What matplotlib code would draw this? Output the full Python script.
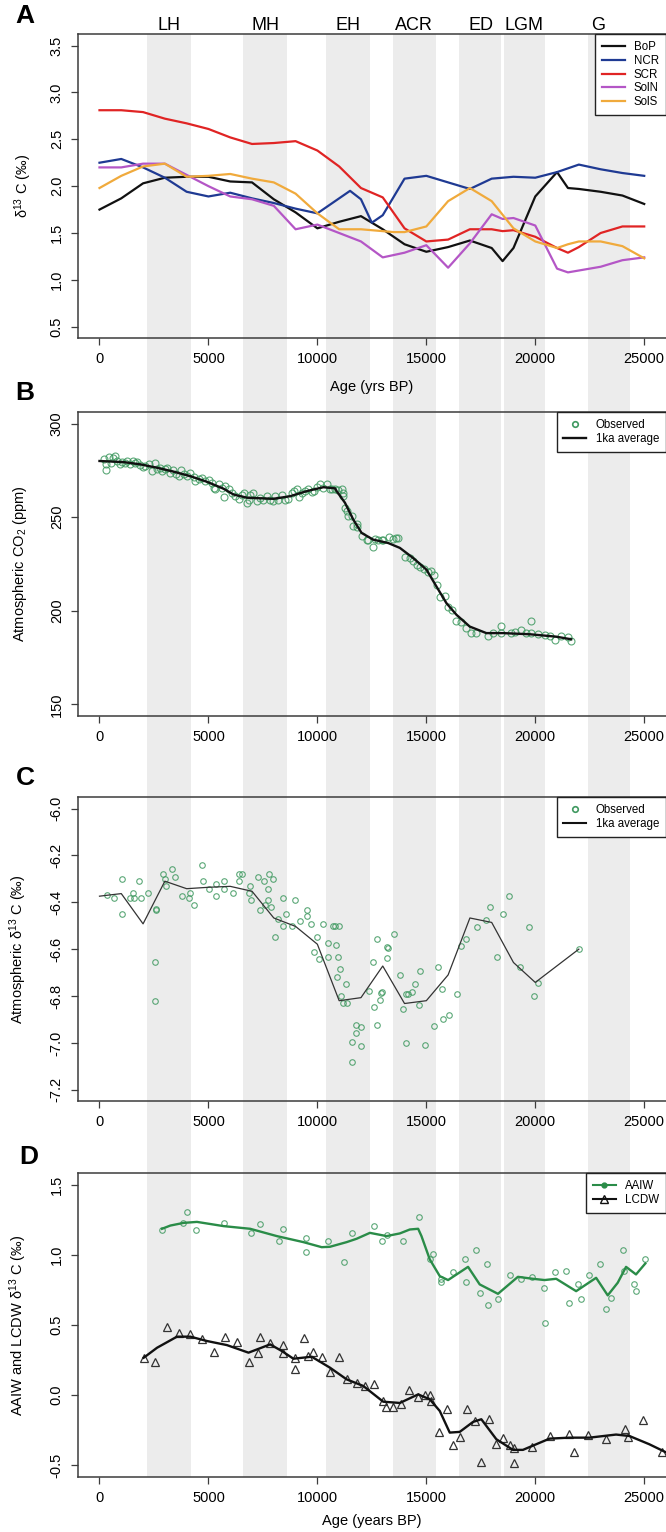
import matplotlib
matplotlib.use('Agg')
import matplotlib.pyplot as plt
import matplotlib.transforms as mtransforms
from matplotlib.lines import Line2D

plt.rcParams['font.family'] = ['Liberation Sans', 'DejaVu Sans']
plt.rcParams['mathtext.default'] = 'regular'

# ---- shared ----
periods = ['LH', 'MH', 'EH', 'ACR', 'ED', 'LGM', 'G']
period_label_x = [3200, 7600, 11400, 14450, 17500, 19500, 22900]
band_start = [2200, 6600, 10400, 13450, 16500, 18550, 22400]
band_end = [4200, 8600, 12400, 15450, 18450, 20450, 24350]
xticks = [0, 5000, 10000, 15000, 20000, 25000]

# ---- panel A: d13C by region ----
bop_x = [0, 1000, 2000, 3000, 4000, 5000, 6000, 7000, 8000, 9000, 10000, 11000, 12000, 13000,
         14000, 15000, 16000, 17000, 18000, 18500, 19000, 20000, 21000, 21500, 22000, 23000, 24000, 25000]
bop_y = [1.75, 1.87, 2.03, 2.09, 2.10, 2.10, 2.05, 2.04, 1.86, 1.72, 1.55, 1.62, 1.68, 1.54,
         1.38, 1.30, 1.35, 1.42, 1.34, 1.20, 1.34, 1.89, 2.15, 1.98, 1.97, 1.94, 1.90, 1.81]
ncr_x = [0, 1000, 2000, 3000, 4000, 5000, 6000, 7000, 8000, 9000, 10000, 11500, 12000, 12500,
         13000, 14000, 15000, 16000, 17000, 18000, 19000, 20000, 21000, 22000, 23000, 24000, 25000]
ncr_y = [2.25, 2.29, 2.20, 2.09, 1.94, 1.89, 1.93, 1.87, 1.82, 1.76, 1.71, 1.95, 1.86, 1.61,
         1.69, 2.08, 2.11, 2.04, 1.97, 2.08, 2.10, 2.09, 2.15, 2.23, 2.18, 2.14, 2.11]
scr_x = [0, 1000, 2000, 3000, 4000, 5000, 6000, 7000, 8000, 9000, 10000, 11000, 12000, 13000,
         14000, 15000, 16000, 17000, 18000, 18500, 19000, 20000, 21000, 21500, 22000, 23000, 24000, 25000]
scr_y = [2.81, 2.81, 2.79, 2.72, 2.67, 2.61, 2.52, 2.45, 2.46, 2.48, 2.38, 2.21, 1.98, 1.88,
         1.55, 1.41, 1.43, 1.54, 1.54, 1.52, 1.53, 1.46, 1.34, 1.29, 1.35, 1.50, 1.57, 1.57]
soln_x = [0, 1000, 2000, 3000, 4000, 5000, 6000, 7000, 8000, 9000, 10000, 11000, 12000, 13000,
          14000, 15000, 16000, 17000, 18000, 18500, 19000, 20000, 21000, 21500, 22000, 23000, 24000, 25000]
soln_y = [2.20, 2.20, 2.24, 2.24, 2.12, 2.00, 1.89, 1.86, 1.79, 1.54, 1.59, 1.50, 1.41, 1.24,
          1.29, 1.37, 1.13, 1.39, 1.70, 1.65, 1.66, 1.58, 1.12, 1.08, 1.10, 1.14, 1.21, 1.24]
sols_x = [0, 1000, 2000, 3000, 4000, 5000, 6000, 7000, 8000, 9000, 10000, 11000, 12000, 13000,
          13500, 14000, 15000, 16000, 17000, 18000, 19000, 20000, 21000, 21500, 22000, 23000, 24000, 25000]
sols_y = [1.98, 2.11, 2.21, 2.24, 2.10, 2.11, 2.13, 2.08, 2.04, 1.92, 1.71, 1.54, 1.54, 1.52,
          1.51, 1.51, 1.57, 1.84, 1.98, 1.84, 1.55, 1.41, 1.34, 1.38, 1.41, 1.41, 1.36, 1.23]
region_names = ['BoP', 'NCR', 'SCR', 'SolN', 'SolS']
region_colors = ['#111111', '#1f3a93', '#e02424', '#b456c6', '#f0aa3c']

# ---- panel B: atmospheric CO2 ----
co2_obs_age = [199, 321, 321, 428, 534, 626, 733, 809, 962, 1038, 1191, 1267, 1420, 1542, 1649, 1725,
               1878, 2000, 2107, 2259, 2412, 2565, 2641, 2794, 2870, 3023, 3099, 3252, 3374, 3527,
               3633, 3740, 3862, 4015, 4168, 4320, 4397, 4549, 4702, 4855, 5007, 5160, 5236, 5313,
               5465, 5618, 5725, 5771, 5923, 6076, 6229, 6381, 6534, 6641, 6763, 6839, 6916, 7068,
               7221, 7374, 7526, 7679, 7832, 7954, 8060, 8213, 8366, 8518, 8671, 8824, 8930, 9053,
               9175, 9282, 9434, 9587, 9740, 9846, 9969, 10121, 10274, 10457, 10579, 10655, 10808,
               10961, 11113, 11159, 11190, 11266, 11342, 11419, 11571, 11648, 11800, 11800, 12029,
               12258, 12335, 12533, 12640, 12793, 12945, 13022, 13296, 13449, 13586, 13709, 14014,
               14243, 14396, 14579, 14701, 14884, 15082, 15235, 15342, 15495, 15617, 15846, 15998,
               16197, 16380, 16609, 16838, 17067, 17296, 17830, 18059, 18441, 18441, 18899, 19052,
               19357, 19586, 19815, 19815, 20120, 20426, 20655, 20884, 21189, 21494, 21647]
co2_obs_ppm = [280.9, 278.2, 275.2, 282.3, 279.1, 281.8, 282.7, 280.0, 278.2, 279.4, 278.7, 280.0,
               278.2, 280.0, 279.1, 279.4, 277.7, 276.9, 277.3, 278.2, 274.6, 279.1, 275.5, 276.4,
               274.6, 275.5, 276.4, 273.7, 275.2, 272.8, 271.9, 275.2, 272.8, 271.9, 273.7, 271.6,
               269.3, 270.5, 271.1, 269.3, 269.8, 268.4, 265.7, 264.8, 267.5, 265.7, 260.9, 266.9,
               265.2, 263.0, 261.2, 259.8, 261.6, 263.0, 257.7, 259.1, 262.1, 263.0, 258.6, 260.3,
               259.1, 261.2, 259.4, 258.6, 261.2, 259.4, 262.1, 259.4, 259.8, 263.0, 263.9, 265.2,
               260.9, 263.0, 263.9, 264.8, 263.4, 263.9, 266.2, 267.5, 265.7, 267.8, 265.2, 265.2,
               264.8, 264.4, 265.2, 263.0, 261.2, 255.0, 253.2, 250.5, 250.5, 245.2, 246.6, 244.8,
               240.2, 237.7, 238.0, 234.1, 238.4, 238.0, 238.0, 237.7, 239.5, 238.4, 238.9, 238.9,
               228.7, 228.2, 226.4, 224.6, 223.4, 222.3, 220.5, 221.1, 219.3, 213.9, 207.3, 207.7,
               202.3, 200.5, 194.8, 193.8, 190.7, 188.4, 188.4, 186.6, 188.4, 192.0, 188.1, 188.4,
               188.9, 189.8, 188.1, 194.8, 188.1, 187.7, 187.2, 186.6, 184.5, 186.3, 185.9, 184.1]
co2_avg_age = [0, 1114, 1878, 2642, 3405, 4168, 4932, 5695, 6153, 6764, 7985, 8749, 9512, 10276,
               10810, 10884, 11266, 11648, 12029, 12563, 13250, 13785, 14395, 15006, 15464, 15923,
               16382, 16992, 17755, 18516, 19739, 20962, 21649]
co2_avg_ppm = [280.0, 279.4, 278.2, 276.4, 274.3, 271.9, 268.9, 265.2, 262.1, 260.4, 259.8, 261.2,
               263.9, 266.0, 265.4, 263.9, 257.7, 248.7, 241.6, 238.0, 236.2, 233.6, 228.2, 222.0,
               213.0, 204.1, 197.9, 191.6, 188.1, 188.1, 187.5, 186.2, 184.8]

# ---- panel C: atmospheric d13C ----
d13c_obs_age = [351, 687, 1038, 1038, 1420, 1542, 1573, 1801, 1908, 2214, 2534, 2534, 2595, 2610,
                2901, 3023, 3068, 3328, 3450, 3786, 4091, 4168, 4320, 4702, 4732, 5007, 5343, 5343,
                5694, 5725, 6107, 6412, 6412, 6534, 6839, 6916, 6946, 7297, 7374, 7572, 7603, 7725,
                7725, 7801, 7877, 7954, 8060, 8183, 8442, 8442, 8564, 8824, 8976, 9205, 9511, 9511,
                9710, 9862, 9969, 10060, 10274, 10503, 10503, 10732, 10824, 10854, 10961, 10915,
                11037, 11006, 11312, 11067, 11159, 11342, 11770, 11770, 12014, 12014, 11587, 11587,
                12380, 12563, 12579, 12716, 12716, 12869, 12915, 12976, 13174, 13235, 13174, 13510,
                13770, 13938, 14075, 14182, 14334, 14075, 14472, 14686, 14731, 14960, 15357, 15525,
                15724, 15754, 16029, 16426, 16594, 16823, 17311, 17754, 17907, 18243, 18502, 18807,
                19296, 19693, 19922, 20120, 22028]
d13c_obs_val = [-6.370, -6.382, -6.300, -6.450, -6.382, -6.360, -6.382, -6.310, -6.382, -6.360,
                -6.653, -6.822, -6.429, -6.432, -6.279, -6.300, -6.332, -6.260, -6.292, -6.372,
                -6.382, -6.360, -6.410, -6.242, -6.310, -6.342, -6.320, -6.372, -6.310, -6.342,
                -6.360, -6.310, -6.279, -6.279, -6.360, -6.332, -6.389, -6.292, -6.432, -6.310,
                -6.410, -6.342, -6.389, -6.279, -6.420, -6.300, -6.550, -6.470, -6.382, -6.500,
                -6.450, -6.500, -6.389, -6.479, -6.432, -6.460, -6.492, -6.612, -6.550, -6.640,
                -6.492, -6.572, -6.632, -6.500, -6.500, -6.582, -6.632, -6.720, -6.686, -6.500,
                -6.749, -6.800, -6.829, -6.829, -6.925, -6.959, -6.933, -7.013, -6.996, -7.083,
                -6.777, -6.653, -6.845, -6.555, -6.922, -6.817, -6.785, -6.783, -6.592, -6.597,
                -6.637, -6.536, -6.712, -6.855, -6.793, -6.792, -6.783, -6.999, -6.749, -6.839,
                -6.693, -7.010, -6.930, -6.675, -6.770, -6.900, -6.879, -6.792, -6.587, -6.557,
                -6.507, -6.477, -6.422, -6.632, -6.449, -6.375, -6.675, -6.505, -6.800, -6.743, -6.600]
d13c_avg_age = [0, 350, 1000, 2000, 3000, 4000, 5000, 6000, 7000, 8000, 9000, 10000, 11000,
                12000, 13000, 14000, 15000, 16000, 17000, 18000, 19000, 20000, 22000]
d13c_avg_val = [-6.374, -6.370, -6.363, -6.492, -6.310, -6.342, -6.336, -6.332, -6.353, -6.467,
                -6.503, -6.579, -6.820, -6.807, -6.672, -6.832, -6.820, -6.710, -6.467, -6.486,
                -6.657, -6.742, -6.600]

# ---- panel D: AAIW and LCDW d13C ----
aaiw_obs_age = [2870, 3816, 4015, 4442, 5694, 6946, 7373, 8228, 8412, 9465, 9465, 10503, 11236,
                11572, 12610, 12976, 13205, 13907, 14670, 15159, 15312, 15693, 15693, 16228, 16762,
                16808, 17265, 17479, 17785, 17846, 18304, 18853, 19342, 19861, 20395, 20456, 20883,
                21418, 21571, 21952, 22105, 22487, 22975, 23250, 23494, 24044, 24090, 24548, 24624, 25051]
aaiw_obs_val = [1.173, 1.227, 1.303, 1.173, 1.227, 1.156, 1.216, 1.095, 1.185, 1.121, 1.021, 1.097,
                0.950, 1.156, 1.206, 1.097, 1.144, 1.097, 1.268, 0.971, 1.002, 0.805, 0.824, 0.877,
                0.971, 0.805, 1.033, 0.730, 0.931, 0.642, 0.687, 0.853, 0.829, 0.841, 0.760, 0.514,
                0.876, 0.884, 0.654, 0.791, 0.687, 0.853, 0.931, 0.611, 0.694, 1.033, 0.884, 0.789,
                0.741, 0.971]
aaiw_fit_age = [2870, 3252, 3862, 4473, 5694, 6915, 8137, 9358, 10198, 10580, 11343, 11801, 12411,
                13175, 13785, 14243, 14625, 14777, 15159, 15617, 15999, 16915, 17449, 18288, 19204,
                19891, 20426, 20960, 21876, 22793, 23326, 23785, 24166, 24624, 25051]
aaiw_fit_val = [1.185, 1.208, 1.227, 1.234, 1.204, 1.185, 1.133, 1.090, 1.054, 1.057, 1.090, 1.114,
                1.156, 1.133, 1.152, 1.180, 1.185, 1.133, 0.967, 0.848, 0.820, 0.914, 0.789, 0.722,
                0.843, 0.829, 0.820, 0.829, 0.741, 0.836, 0.711, 0.801, 0.914, 0.860, 0.938]
lcdw_obs_age = [2030, 2565, 3099, 3633, 4168, 4702, 5236, 5771, 6305, 6839, 7297, 7373, 7832, 8412,
                8412, 8976, 8976, 9388, 9587, 9785, 10198, 10580, 11007, 11343, 11801, 12182, 12610,
                13022, 13144, 13450, 13815, 14197, 14625, 14930, 15159, 15235, 15586, 15953, 16228,
                16533, 16884, 17220, 17525, 17861, 18181, 18517, 18853, 19006, 19006, 19845, 20685,
                21540, 21800, 22410, 23250, 24105, 24242, 24960, 25814]
lcdw_obs_val = [0.267, 0.236, 0.488, 0.440, 0.433, 0.398, 0.308, 0.417, 0.379, 0.236, 0.298, 0.417,
                0.374, 0.357, 0.298, 0.267, 0.189, 0.410, 0.279, 0.308, 0.272, 0.168, 0.270, 0.113,
                0.089, 0.066, 0.078, -0.041, -0.081, -0.081, -0.065, 0.037, -0.010, 0.000, 0.000,
                -0.041, -0.261, -0.100, -0.354, -0.295, -0.100, -0.183, -0.475, -0.171, -0.347,
                -0.302, -0.356, -0.484, -0.373, -0.366, -0.290, -0.273, -0.401, -0.285, -0.314,
                -0.242, -0.297, -0.178, -0.404]
lcdw_fit_age = [2030, 2641, 3557, 4168, 4931, 5847, 6839, 7832, 8366, 8900, 9740, 10580, 11343,
                12106, 13022, 13785, 14625, 15159, 15617, 16075, 16533, 17144, 17525, 18212, 18975,
                19433, 20044, 20655, 21571, 22487, 23708, 24318, 25234, 25967]
lcdw_fit_val = [0.267, 0.338, 0.417, 0.417, 0.386, 0.357, 0.303, 0.362, 0.315, 0.260, 0.274, 0.196,
                0.113, 0.066, -0.046, -0.055, 0.006, -0.029, -0.112, -0.266, -0.261, -0.190, -0.171,
                -0.313, -0.389, -0.389, -0.349, -0.309, -0.302, -0.302, -0.280, -0.290, -0.349, -0.404]

GREEN_PT = '#3f9960'
GREEN_LN = '#2a8c48'
BOX = '#3c3c3c'

fig = plt.figure(figsize=(6.66, 15.32), dpi=100)
L, W = 77.7 / 666, (666 - 77.7) / 666
FH = 1532.0


def pos(top_px, bot_px):
    return [L, 1 - bot_px / FH, W, (bot_px - top_px) / FH]


# background bands behind all panels
bg = fig.add_axes(pos(34.3, 1476.7))
bg.set_xlim(-1000, 26000)
bg.axis('off')
for a, b in zip(band_start, band_end):
    bg.axvspan(a, b, color='#ececec', lw=0)
trans = mtransforms.blended_transform_factory(bg.transData, fig.transFigure)
for lab, xc in zip(periods, period_label_x):
    bg.text(xc, 1 - 25 / FH, lab, transform=trans, ha='center', va='center', fontsize=13)


def style(ax, ylim, yticks, ylabels, ylabel, ylab_x):
    ax.set_facecolor('none')
    ax.set_xlim(-1000, 26000)
    ax.set_ylim(*ylim)
    ax.set_xticks(xticks)
    ax.set_xticklabels([str(t) for t in xticks])
    ax.set_yticks(yticks)
    ax.set_yticklabels(ylabels, rotation=90, va='center')
    ax.tick_params(length=5, width=0.9, labelsize=10.5, pad=5, color=BOX)
    for s in ax.spines.values():
        s.set_color(BOX)
        s.set_linewidth(1.1)
    ax.spines['right'].set_visible(False)
    ax.set_ylabel(ylabel, fontsize=10.5)
    ax.yaxis.set_label_coords(ylab_x, 0.5)


def legend(ax, handles, labels):
    lg = ax.legend(handles, labels, loc='upper right', bbox_to_anchor=(1.0, 1.0), borderaxespad=0,
                   fontsize=8.3, fancybox=False, framealpha=1, edgecolor='#222222',
                   labelspacing=0.15, handlelength=2.0, handletextpad=0.8, borderpad=0.6)
    lg.get_frame().set_linewidth(1.0)
    return lg


# A
axA = fig.add_axes(pos(34.3, 338))
series = [(bop_x, bop_y), (ncr_x, ncr_y), (scr_x, scr_y), (soln_x, soln_y), (sols_x, sols_y)]
for (xs, ys), c in zip(series, region_colors):
    axA.plot(xs, ys, color=c, lw=1.6)
style(axA, (0.38, 3.62), [0.5, 1.0, 1.5, 2.0, 2.5, 3.0, 3.5],
      ['0.5', '1.0', '1.5', '2.0', '2.5', '3.0', '3.5'], 'δ$^{13}$ C (‰)', -0.074)
axA.set_xlabel('Age (yrs BP)', fontsize=10.5, va='center')
axA.xaxis.set_label_coords(0.5, -48.7 / 303.7)
legend(axA, [Line2D([], [], color=c, lw=1.6) for c in region_colors], region_names)

# B
axB = fig.add_axes(pos(412.3, 715.7))
axB.plot(co2_obs_age, co2_obs_ppm, 'o', mfc='none', mec=GREEN_PT, ms=5, mew=0.8, alpha=0.85)
axB.plot(co2_avg_age, co2_avg_ppm, color='#111111', lw=1.7)
style(axB, (144, 306), [150, 200, 250, 300], ['150', '200', '250', '300'],
      'Atmospheric CO$_2$ (ppm)', -0.082)
obs_h = Line2D([], [], ls='none', marker='o', mfc='none', mec=GREEN_PT, ms=4, mew=1.2)
avg_h = Line2D([], [], color='#111111', lw=1.7)
legend(axB, [obs_h, avg_h], ['Observed', '1ka average'])

# C
axC = fig.add_axes(pos(797.3, 1101))
axC.plot(d13c_obs_age, d13c_obs_val, 'o', mfc='none', mec=GREEN_PT, ms=4, mew=0.8, alpha=0.85)
axC.plot(d13c_avg_age, d13c_avg_val, color='#333333', lw=0.9)
style(axC, (-7.248, -5.952), [-7.2, -7.0, -6.8, -6.6, -6.4, -6.2, -6.0],
      ['-7.2', '-7.0', '-6.8', '-6.6', '-6.4', '-6.2', '-6.0'], 'Atmospheric δ$^{13}$ C (‰)', -0.082)
avg_h2 = Line2D([], [], color='#111111', lw=1.5)
legend(axC, [obs_h, avg_h2], ['Observed', '1ka average'])

# D
axD = fig.add_axes(pos(1173.3, 1476.7))
axD.plot(aaiw_obs_age, aaiw_obs_val, 'o', mfc='none', mec=GREEN_PT, ms=4, mew=0.8, alpha=0.85)
axD.plot(aaiw_fit_age, aaiw_fit_val, color=GREEN_LN, lw=1.7)
axD.plot(lcdw_obs_age, lcdw_obs_val, '^', mfc='none', mec='#333333', ms=6.2, mew=0.9)
axD.plot(lcdw_fit_age, lcdw_fit_val, color='#111111', lw=1.7)
style(axD, (-0.58, 1.58), [-0.5, 0.0, 0.5, 1.0, 1.5], ['-0.5', '0.0', '0.5', '1.0', '1.5'],
      'AAIW and LCDW δ$^{13}$ C (‰)', -0.082)
axD.set_xlabel('Age (years BP)', fontsize=10.5, va='center')
axD.xaxis.set_label_coords(0.5, -44.0 / 303.4)
aaiw_h = Line2D([], [], color=GREEN_LN, lw=1.5, marker='o', ms=3.5, mfc=GREEN_LN, mec=GREEN_LN)
lcdw_h = Line2D([], [], color='#111111', lw=1.5, marker='^', ms=6, mfc='none', mec='#111111')
legend(axD, [aaiw_h, lcdw_h], ['AAIW', 'LCDW'])

# panel letters
for lab, xp, yp in [('A', 25, 16), ('B', 25, 393), ('C', 25, 778), ('D', 29, 1157)]:
    fig.text(xp / 666, 1 - yp / FH, lab, fontsize=19, fontweight='bold', ha='center', va='center')

fig.savefig('out.png', dpi=100)
